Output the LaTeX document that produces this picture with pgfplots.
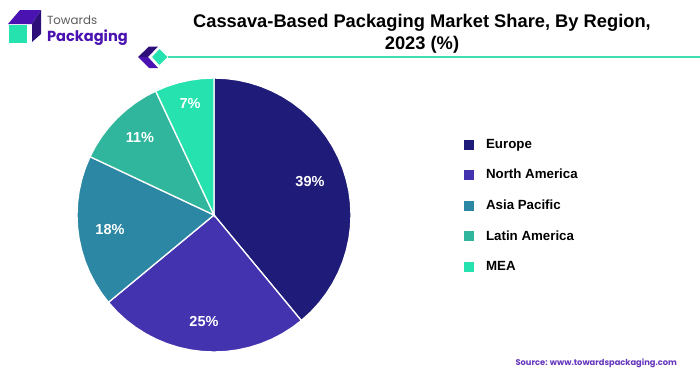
\documentclass[border=0pt]{standalone}
\usepackage{pgfplots}
\usepackage{fontspec}
\setmainfont{Liberation Sans}
\newfontfamily\pop{Poppins}
\pgfplotsset{compat=1.18}
\usepgfplotslibrary{polar}
\definecolor{cEU}{HTML}{1F1B78}
\definecolor{cNA}{HTML}{4433AF}
\definecolor{cAP}{HTML}{2B87A3}
\definecolor{cLA}{HTML}{31B69E}
\definecolor{cME}{HTML}{26E2AE}
\definecolor{cRule}{HTML}{3FDDB0}
\definecolor{logoP}{HTML}{4A12B0}
\definecolor{logoD}{HTML}{2E0F7A}
\begin{document}
\begin{tikzpicture}[x=1pt,y=1pt]
\path[use as bounding box] (0,0) rectangle (700,376);
% title
\node[font=\bfseries\fontsize{18.3}{22}\selectfont,align=center,text=black] at (422,342.5)
 {Cassava-Based Packaging Market Share, By Region,\\2023 (\%)};
% rule and logo
\fill[cRule] (165,318.3) rectangle (700,319.7);
\fill[logoD] (138,319) -- (149,329.5) -- (158,329.5) -- (148,319) -- cycle;
\fill[logoP] (138,319) -- (149,308) -- (158,308) -- (148,319) -- cycle;
\fill[cME,draw=white,line width=0.5pt] (151.5,319) -- (159.5,327.5) -- (168,319) -- (159.5,310.5) -- cycle;
\fill[logoP] (8,352) -- (20,366) -- (41,366) -- (32,352) -- cycle;
\fill[logoD] (32,334) -- (41,342) -- (41,366) -- (32,352) -- cycle;
\fill[cME] (9,333) rectangle (27,351);
\node[anchor=west,font=\pop\fontsize{11.8}{13}\selectfont,text=black!65] at (43.5,356) {Towards};
\node[anchor=west,font=\pop\bfseries\fontsize{14.6}{17}\selectfont,text=logoP] at (43.5,338) {Packaging};
\node[anchor=east,font=\pop\bfseries\fontsize{8.3}{9}\selectfont,text=logoP!85!white] at (680.5,13) {Source: www.towardspackaging.com};
\begin{polaraxis}[
  at={(214,161)},anchor=center,
  width=274pt,height=274pt,scale only axis,
  hide axis,clip=false,
  ymin=0,ymax=137,xmin=0,xmax=360,
  legend cell align=left,
  legend style={at={(1.401,0.792)},anchor=north west,draw=none,fill=none,
    row sep=15.5pt,font=\bfseries\fontsize{13.3}{14}\selectfont},
  legend image code/.code={\fill[#1,draw=none] (0pt,-5pt) rectangle (10pt,5pt);\path[draw=none,fill=none] (0pt,0pt) -- (20pt,0pt);},
]
\addplot[draw=white,line width=1.3pt,fill=cEU] coordinates {(90,0)(90,137)(85,137)(80,137)(75,137)(70,137)(65,137)(60,137)(55,137)(50,137)(45,137)(40,137)(35,137)(30,137)(25,137)(20,137)(15,137)(10,137)(5,137)(0,137)(-5,137)(-10,137)(-15,137)(-20,137)(-25,137)(-30,137)(-35,137)(-40,137)(-45,137)(-50.4,137)(-50.4,0)} \closedcycle;
\addlegendentry{Europe}
\addplot[draw=white,line width=1.3pt,fill=cNA] coordinates {(-50.4,0)(-50.4,137)(-55,137)(-60,137)(-65,137)(-70,137)(-75,137)(-80,137)(-85,137)(-90,137)(-95,137)(-100,137)(-105,137)(-110,137)(-115,137)(-120,137)(-125,137)(-130,137)(-135,137)(-140.4,137)(-140.4,0)} \closedcycle;
\addlegendentry{North America}
\addplot[draw=white,line width=1.3pt,fill=cAP] coordinates {(-140.4,0)(-140.4,137)(-145,137)(-150,137)(-155,137)(-160,137)(-165,137)(-170,137)(-175,137)(-180,137)(-185,137)(-190,137)(-195,137)(-200,137)(-205.2,137)(-205.2,0)} \closedcycle;
\addlegendentry{Asia Pacific}
\addplot[draw=white,line width=1.3pt,fill=cLA] coordinates {(-205.2,0)(-205.2,137)(-210,137)(-215,137)(-220,137)(-225,137)(-230,137)(-235,137)(-240,137)(-244.8,137)(-244.8,0)} \closedcycle;
\addlegendentry{Latin America}
\addplot[draw=white,line width=1.3pt,fill=cME] coordinates {(-244.8,0)(-244.8,137)(-250,137)(-255,137)(-260,137)(-265,137)(-270,137)(-270,0)} \closedcycle;
\addlegendentry{MEA}
\node[text=white,font=\bfseries\fontsize{14.5}{16}\selectfont] at (axis cs:19,101.5) {39\%};
\node[text=white,font=\bfseries\fontsize{14.5}{16}\selectfont] at (axis cs:-95.4,106.5) {25\%};
\node[text=white,font=\bfseries\fontsize{14.5}{16}\selectfont] at (axis cs:-172.3,105) {18\%};
\node[text=white,font=\bfseries\fontsize{14.5}{16}\selectfont] at (axis cs:-226.5,107.5) {11\%};
\node[text=white,font=\bfseries\fontsize{14.5}{16}\selectfont] at (axis cs:-257.8,113.6) {7\%};
\end{polaraxis}
\end{tikzpicture}
\end{document}
